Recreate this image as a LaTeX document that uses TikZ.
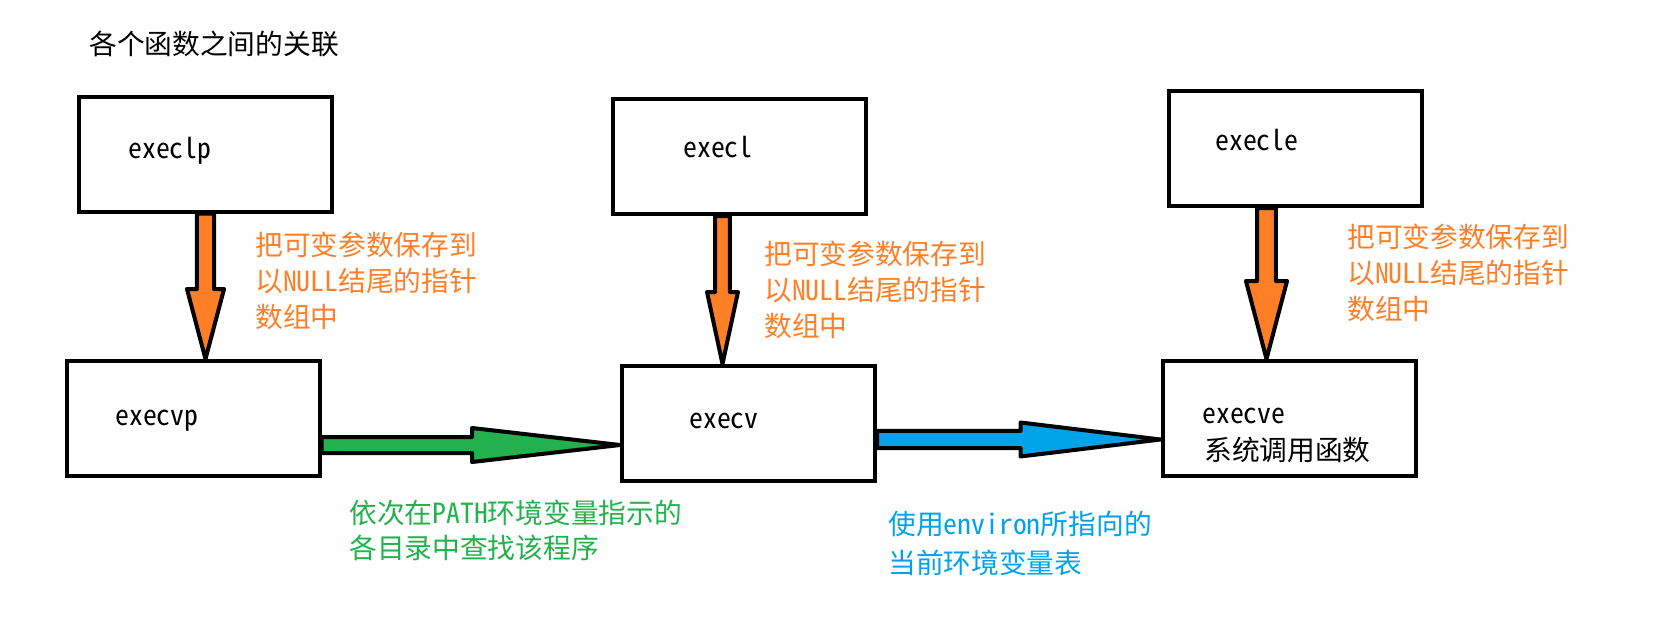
\documentclass[tikz,border=0pt]{standalone}
\usepackage{fontspec}
\setmainfont{Noto Sans Mono CJK SC}
\usepackage{tikz}
\usetikzlibrary{calc,positioning}
\definecolor{porange}{HTML}{FF7F27}
\definecolor{pgreen}{HTML}{22B14C}
\definecolor{pblue}{HTML}{00A2E8}
\tikzset{
  fbox/.style  = {draw, line width=3pt, minimum width=189.75pt, minimum height=86.25pt, inner sep=0pt},
  fname/.style = {anchor=base west, inner sep=0pt, font=\fontsize{20.8pt}{27pt}\selectfont},
  note/.style  = {anchor=west, align=left, inner sep=0pt, font=\fontsize{20.8pt}{27pt}\selectfont},
  fat/.style   = {draw=black, line width=3pt, line join=round},
}
% fat arrow: colour, start, tip, shaft half width, head half width, head length
\newcommand{\fatarrow}[6]{%
  \path (#2) coordinate (fa-s) (#3) coordinate (fa-e);
  \coordinate (fa-b) at ($(fa-e)!#6!(fa-s)$);
  \draw[fat, fill=#1] ($(fa-s)!#4!90:(fa-e)$) -- ($(fa-b)!#4!90:(fa-e)$)
    -- ($(fa-b)!#5!90:(fa-e)$) -- (fa-e) -- ($(fa-b)!#5!-90:(fa-e)$)
    -- ($(fa-b)!#4!-90:(fa-e)$) -- ($(fa-s)!#4!-90:(fa-e)$) -- cycle;}

\begin{document}
\begin{tikzpicture}[x=0.75pt, y=-0.75pt]
  \useasboundingbox (0,0) rectangle (1653,621);
  \node[note] (title) at (89,44) {各个函数之间的关联};

  \foreach \n/\x/\y/\t/\tx/\ty in {lp/205.5/154/execlp/128/158, l/739.5/156.5/execl/683/157,
      le/1295.5/148.5/execle/1215/150, vp/193/418.5/execvp/115/425, v/748.5/423.5/execv/689/428} {
    \node[fbox] (\n) at (\x,\y) {};
    \node[fname] (\n-t) at (\tx,\ty) {\t};
  }
  \node[fbox] (ve) at (1289,418.5) {};
  \node[fname] (ve-t) at (1202,423) {execve};
  \node[fname] (ve-c) at (1204,460.5) {系统调用函数};

  % arrows
  \coordinate (a2) at ($(l.south)+(-17,0)$);
  \coordinate (a3) at ($(le.south)+(-29,0)$);
  \coordinate (g0) at ($(vp.east)+(0,26.5)$);
  \coordinate (b0) at ($(v.east)+(0,16)$);
  \fatarrow{porange}{lp.south}{lp.south |- vp.north}{6.4pt}{13.9pt}{52.5pt}
  \fatarrow{porange}{a2}{a2 |- v.north}{5.6pt}{11.6pt}{54pt}
  \fatarrow{porange}{a3}{a3 |- ve.north}{7.1pt}{15.4pt}{58.5pt}
  \fatarrow{pgreen}{g0}{g0 -| v.west}{6pt}{12.75pt}{111pt}
  \fatarrow{pblue}{b0}{b0 -| ve.west}{6.4pt}{12.75pt}{105pt}

  \node[note, text=porange] (n1) at (255,281) {把可变参数保存到\\以NULL结尾的指针\\数组中};
  \node[note, text=porange] (n2) at (764,290) {把可变参数保存到\\以NULL结尾的指针\\数组中};
  \node[note, text=porange] (n3) at (1347,273) {把可变参数保存到\\以NULL结尾的指针\\数组中};
  \node[note, text=pgreen, font=\fontsize{20.8pt}{26.5pt}\selectfont] (n4) at (349,530.5) {依次在PATH环境变量指示的\\各目录中查找该程序};
  \node[note, text=pblue, font=\fontsize{20.8pt}{29pt}\selectfont] (n5) at (888,543.5) {使用environ所指向的\\当前环境变量表};
\end{tikzpicture}
\end{document}
